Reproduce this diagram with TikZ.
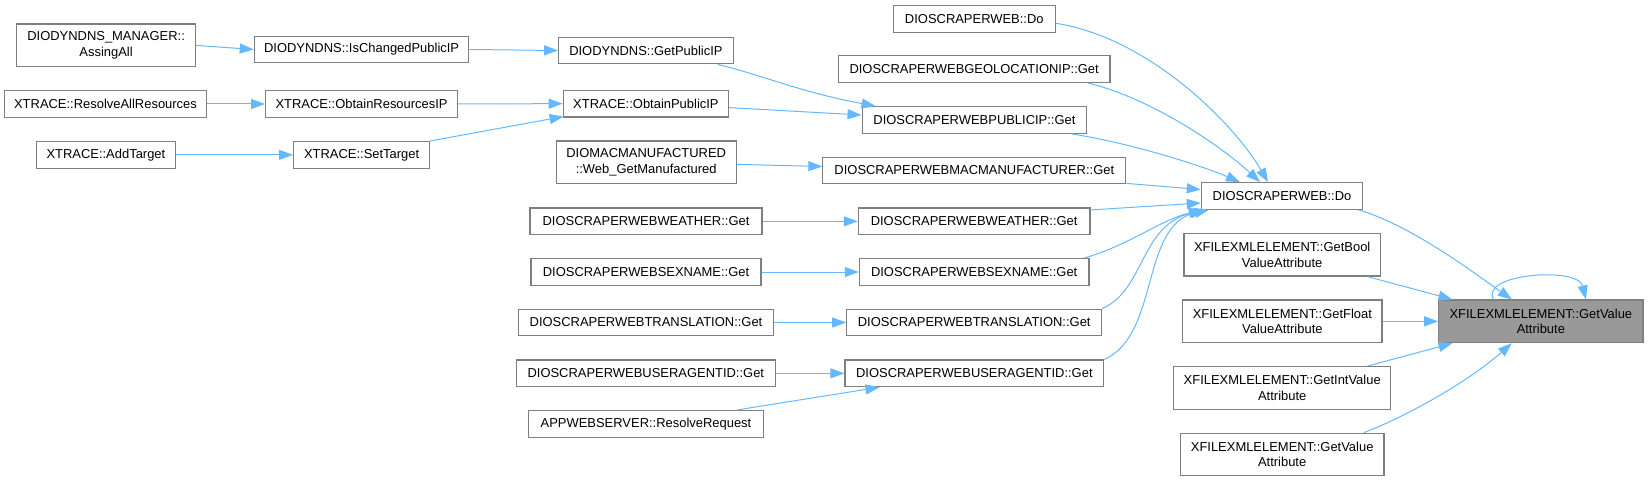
\documentclass[tikz,border=0pt]{standalone}
\usepackage{fontspec}
\setmainfont{Liberation Sans}
\usetikzlibrary{arrows.meta}
\definecolor{edgec}{HTML}{63B8FF}
\definecolor{nodeb}{HTML}{7F7F7F}
\definecolor{mainf}{HTML}{999999}
\begin{document}
\begin{tikzpicture}[x=1pt,y=-1pt,
  box/.style={draw=nodeb, line width=1.1pt, fill=white, inner sep=0pt, minimum height=26.67pt, align=center, font=\fontsize{12.95}{15.7}\selectfont},
  boxtwo/.style={box, minimum height=42.67pt},
  edge/.style={draw=edgec, line width=1pt, -{Triangle[length=14pt,width=10pt]}}]
\useasboundingbox (0,0) rectangle (1648,481);
% column 1
\node[boxtwo, minimum width=178.6pt] (assing) at (106.1,45.35) {DIODYNDNS\_MANAGER::\\AssingAll};
\node[box, minimum width=201.8pt] (resolveall) at (105.5,104) {XTRACE::ResolveAllResources};
\node[box, minimum width=139pt] (addtarget) at (105.9,154.85) {XTRACE::AddTarget};
% column 2
\node[box, minimum width=214.6pt] (ischanged) at (361.6,49.5) {DIODYNDNS::IsChangedPublicIP};
\node[box, minimum width=191.8pt] (obtainres) at (361.6,104) {XTRACE::ObtainResourcesIP};
\node[box, minimum width=136pt] (settarget) at (361.6,154.85) {XTRACE::SetTarget};
% column 3
\node[box, minimum width=174.6pt] (getpublicip) at (645.9,50.5) {DIODYNDNS::GetPublicIP};
\node[box, minimum width=165.4pt] (obtainpub) at (645.9,103.65) {XTRACE::ObtainPublicIP};
\node[boxtwo, minimum width=179.7pt] (diomac) at (646.2,162.35) {DIOMACMANUFACTURED\\::Web\_GetManufactured};
\node[box, minimum width=232pt] (weatherL) at (646,221.35) {DIOSCRAPERWEBWEATHER::Get};
\node[box, minimum width=230pt] (sexnameL) at (646,272) {DIOSCRAPERWEBSEXNAME::Get};
\node[box, minimum width=254.6pt] (translL) at (646,322.5) {DIOSCRAPERWEBTRANSLATION::Get};
\node[box, minimum width=259pt] (uaL) at (645.8,373.35) {DIOSCRAPERWEBUSERAGENTID::Get};
\node[box, minimum width=234.6pt] (appweb) at (646,423.8) {APPWEBSERVER::ResolveRequest};
% column 4
\node[box, minimum width=162.2pt] (dotop) at (974.3,18.8) {DIOSCRAPERWEB::Do};
\node[box, minimum width=271.8pt] (geoloc) at (974.1,69.15) {DIOSCRAPERWEBGEOLOCATIONIP::Get};
\node[box, minimum width=224.7pt] (publicip) at (974.45,120) {DIOSCRAPERWEBPUBLICIP::Get};
\node[box, minimum width=302.8pt] (macmanu) at (974.3,170.5) {DIOSCRAPERWEBMACMANUFACTURER::Get};
\node[box, minimum width=231.7pt] (weatherR) at (974.15,221.35) {DIOSCRAPERWEBWEATHER::Get};
\node[box, minimum width=229.7pt] (sexnameR) at (974.15,272) {DIOSCRAPERWEBSEXNAME::Get};
\node[box, minimum width=255pt] (translR) at (974.2,322.5) {DIOSCRAPERWEBTRANSLATION::Get};
\node[box, minimum width=258.7pt] (uaR) at (974.35,373.35) {DIOSCRAPERWEBUSERAGENTID::Get};
% column 5
\node[box, minimum width=161.4pt] (domain) at (1282,196) {DIOSCRAPERWEB::Do};
\node[boxtwo, minimum width=196.3pt] (getbool) at (1282.15,254.65) {XFILEXMLELEMENT::GetBool\\ValueAttribute};
\node[boxtwo, minimum width=199.3pt] (getfloat) at (1282.35,321.35) {XFILEXMLELEMENT::GetFloat\\ValueAttribute};
\node[boxtwo, minimum width=217pt] (getint) at (1282.2,388) {XFILEXMLELEMENT::GetIntValue\\Attribute};
\node[boxtwo, minimum width=203.7pt] (getvalue2) at (1282.15,454.5) {XFILEXMLELEMENT::GetValue\\Attribute};
% column 6
\node[boxtwo, fill=mainf, minimum width=204.3pt] (main) at (1540.85,321.35) {XFILEXMLELEMENT::GetValue\\Attribute};
% edges
\draw[edge] (assing.east) -- (ischanged.west);
\draw[edge] (ischanged.east) -- (getpublicip.west);
\draw[edge] (resolveall.east) -- (obtainres.west);
\draw[edge] (obtainres.east) -- (obtainpub.west);
\draw[edge] (addtarget.east) -- (settarget.west);
\draw[edge] (settarget.north east) -- ([xshift=1pt,yshift=1pt]obtainpub.south west);
\draw[edge] ([xshift=-16pt]getpublicip.south east) .. controls (765,76) and (800,92) .. ([xshift=14pt]publicip.north west);
\draw[edge] ([yshift=-4pt]obtainpub.east) -- ([yshift=5pt]publicip.west);
\draw[edge] ([yshift=-2pt]diomac.east) -- ([yshift=4pt]macmanu.west);
\draw[edge] (weatherL.east) -- (weatherR.west);
\draw[edge] (sexnameL.east) -- (sexnameR.west);
\draw[edge] (translL.east) -- (translR.west);
\draw[edge] (uaL.east) -- (uaR.west);
\draw[edge] ([xshift=-26.6pt]appweb.north east) -- ([xshift=35pt]uaR.south west);
\draw[edge] ([yshift=-4.5pt]dotop.east) .. controls (1150,38) and (1235,125) .. ([xshift=-14pt]domain.north);
\draw[edge] ([xshift=114pt]geoloc.south) .. controls (1150,98) and (1220,145) .. ([xshift=-22pt]domain.north);
\draw[edge] ([xshift=97pt]publicip.south) .. controls (1130,143) and (1200,165) .. ([xshift=-42pt]domain.north);
\draw[edge] ([yshift=1pt]macmanu.south east) -- ([yshift=6.5pt]domain.west);
\draw[edge] ([yshift=-2.5pt]weatherR.north east) -- ([yshift=-7pt]domain.west);
\draw[edge] ([xshift=-5.7pt]sexnameR.north east) .. controls (1130,245) and (1160,220) .. ([xshift=2pt]domain.south west);
\draw[edge] (translR.north east) .. controls (1145,290) and (1140,225) .. ([xshift=4pt]domain.south west);
\draw[edge] (uaR.north east) .. controls (1160,335) and (1140,225) .. ([xshift=8pt]domain.south west);
\draw[edge] ([xshift=-4.7pt]domain.south east) .. controls (1410,225) and (1470,270) .. ([xshift=-29pt]main.north);
\draw[edge] ([xshift=-47pt]main.north) .. controls (1478,274) and (1578,266) .. ([xshift=45pt]main.north);
\draw[edge] ([xshift=-13.6pt]getbool.south east) -- ([xshift=14.3pt]main.north west);
\draw[edge] (getfloat.east) -- (main.west);
\draw[edge] ([xshift=-24pt]getint.north east) -- ([xshift=14.3pt]main.south west);
\draw[edge] ([xshift=-20.7pt]getvalue2.north east) .. controls (1410,415) and (1470,380) .. ([xshift=-29pt]main.south);
\end{tikzpicture}
\end{document}
